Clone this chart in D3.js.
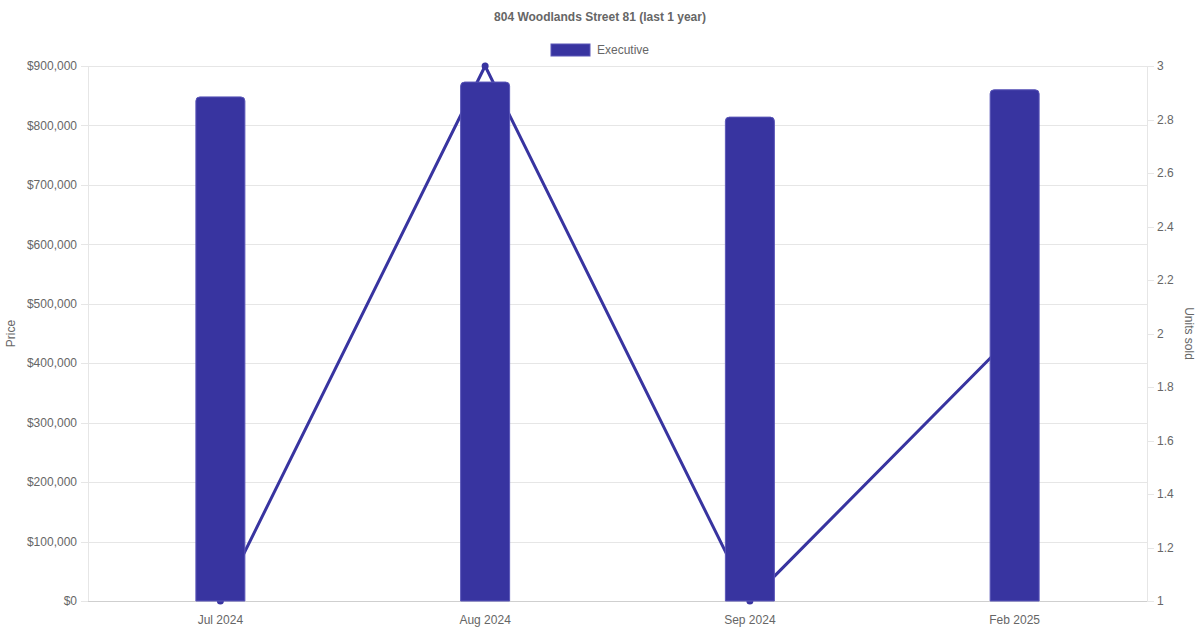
<!DOCTYPE html>
<html>
<head>
<meta charset="utf-8">
<script src="https://cdn.jsdelivr.net/npm/d3@7/dist/d3.min.js"></script>
<style>
  html, body { margin: 0; padding: 0; background: #fff; }
  svg { display: block; font-family: "Liberation Sans", Arial, Helvetica, sans-serif; }
</style>
</head>
<body>
<svg id="chart" width="1200" height="630"></svg>
<script>
const title = "804 Woodlands Street 81 (last 1 year)";
const categories = ["Jul 2024", "Aug 2024", "Sep 2024", "Feb 2025"];
const seriesName = "Executive";
const prices = [848000, 873000, 814000, 860000];
const unitsSold = [1, 3, 1, 2];
const priceTicks = [0, 100000, 200000, 300000, 400000, 500000, 600000, 700000, 800000, 900000];
const unitTicks = [1, 1.2, 1.4, 1.6, 1.8, 2, 2.2, 2.4, 2.6, 2.8, 3];

(function () {
const color = "#3834a0";
const textColor = "#666";
const gridColor = "#e6e6e6";

const svg = d3.select("#chart");
const pL = 88, pR = 1147, pT = 66, pB = 601;

const x = d3.scaleBand().domain(categories).range([pL, pR]);
const yL = d3.scaleLinear().domain([0, 900000]).range([pB, pT]);
const yR = d3.scaleLinear().domain([1, 3]).range([pB, pT]);
const cxOf = c => x(c) + x.bandwidth() / 2;

// grid lines
svg.append("g").selectAll("line").data(priceTicks).join("line")
  .attr("x1", pL - 7).attr("x2", pR)
  .attr("y1", d => Math.round(yL(d)) + 0.5).attr("y2", d => Math.round(yL(d)) + 0.5)
  .attr("stroke", gridColor).attr("stroke-width", 1);

// right tick marks
svg.append("g").selectAll("line").data(unitTicks).join("line")
  .attr("x1", pR).attr("x2", pR + 7)
  .attr("y1", d => Math.round(yR(d)) + 0.5).attr("y2", d => Math.round(yR(d)) + 0.5)
  .attr("stroke", gridColor);

// axis borders
svg.append("line").attr("x1", pL + 0.5).attr("x2", pL + 0.5).attr("y1", pT).attr("y2", pB)
  .attr("stroke", gridColor);
svg.append("line").attr("x1", pR + 0.5).attr("x2", pR + 0.5).attr("y1", pT).attr("y2", pB)
  .attr("stroke", gridColor);
svg.append("line").attr("x1", pL).attr("x2", pR).attr("y1", pB + 0.5).attr("y2", pB + 0.5)
  .attr("stroke", "#cfcfcf");

// left tick labels
const fmt = d3.format("$,");
svg.append("g").selectAll("text").data(priceTicks).join("text")
  .attr("x", 77).attr("y", d => yL(d)).attr("dy", "0.35em")
  .attr("text-anchor", "end").attr("font-size", 12).attr("fill", textColor)
  .text(d => fmt(d));

// right tick labels
svg.append("g").selectAll("text").data(unitTicks).join("text")
  .attr("x", 1157).attr("y", d => yR(d)).attr("dy", "0.35em")
  .attr("text-anchor", "start").attr("font-size", 12).attr("fill", textColor)
  .text(d => d3.format("~g")(d));

// x labels
svg.append("g").selectAll("text").data(categories).join("text")
  .attr("x", d => cxOf(d)).attr("y", 620).attr("dy", "0.35em")
  .attr("text-anchor", "middle").attr("font-size", 12).attr("fill", textColor)
  .text(d => d);

// axis titles
svg.append("text").attr("transform", `translate(11,${(pT + pB) / 2}) rotate(-90)`)
  .attr("text-anchor", "middle").attr("dy", "0.35em").attr("font-size", 12).attr("fill", textColor)
  .text("Price");
svg.append("text").attr("transform", `translate(1189,${(pT + pB) / 2}) rotate(90)`)
  .attr("text-anchor", "middle").attr("dy", "0.35em").attr("font-size", 12).attr("fill", textColor)
  .text("Units sold");

// line (behind bars)
const line = d3.line()
  .x((d, i) => cxOf(categories[i]))
  .y(d => yR(d));
svg.append("path").datum(unitsSold).attr("d", line)
  .attr("fill", "none").attr("stroke", color).attr("stroke-width", 3).attr("stroke-linejoin", "miter");
svg.append("g").selectAll("circle").data(unitsSold).join("circle")
  .attr("cx", (d, i) => cxOf(categories[i]))
  .attr("cy", d => yR(d)).attr("r", 3.5).attr("fill", color);

// bars with rounded top corners
const bw = 49, r = 4;
svg.append("g").selectAll("path").data(prices).join("path")
  .attr("d", (d, i) => {
    const cx = cxOf(categories[i]);
    const x0 = cx - bw / 2, x1 = cx + bw / 2, y0 = yL(d), y1 = pB;
    return `M${x0},${y1} L${x0},${y0 + r} Q${x0},${y0} ${x0 + r},${y0} L${x1 - r},${y0} Q${x1},${y0} ${x1},${y0 + r} L${x1},${y1} Z`;
  })
  .attr("fill", color).attr("stroke", "#5a56b8").attr("stroke-width", 1);

// title
svg.append("text").attr("x", 600).attr("y", 17).attr("dy", "0.35em")
  .attr("text-anchor", "middle").attr("font-size", 12).attr("font-weight", "bold").attr("fill", textColor)
  .text(title);

// legend
svg.append("rect").attr("x", 551).attr("y", 44).attr("width", 39).attr("height", 12)
  .attr("fill", color).attr("stroke", "#5a56b8").attr("stroke-width", 1);
svg.append("text").attr("x", 597).attr("y", 50).attr("dy", "0.35em")
  .attr("font-size", 12).attr("fill", textColor).text(seriesName);
})();
</script>
</body>
</html>
